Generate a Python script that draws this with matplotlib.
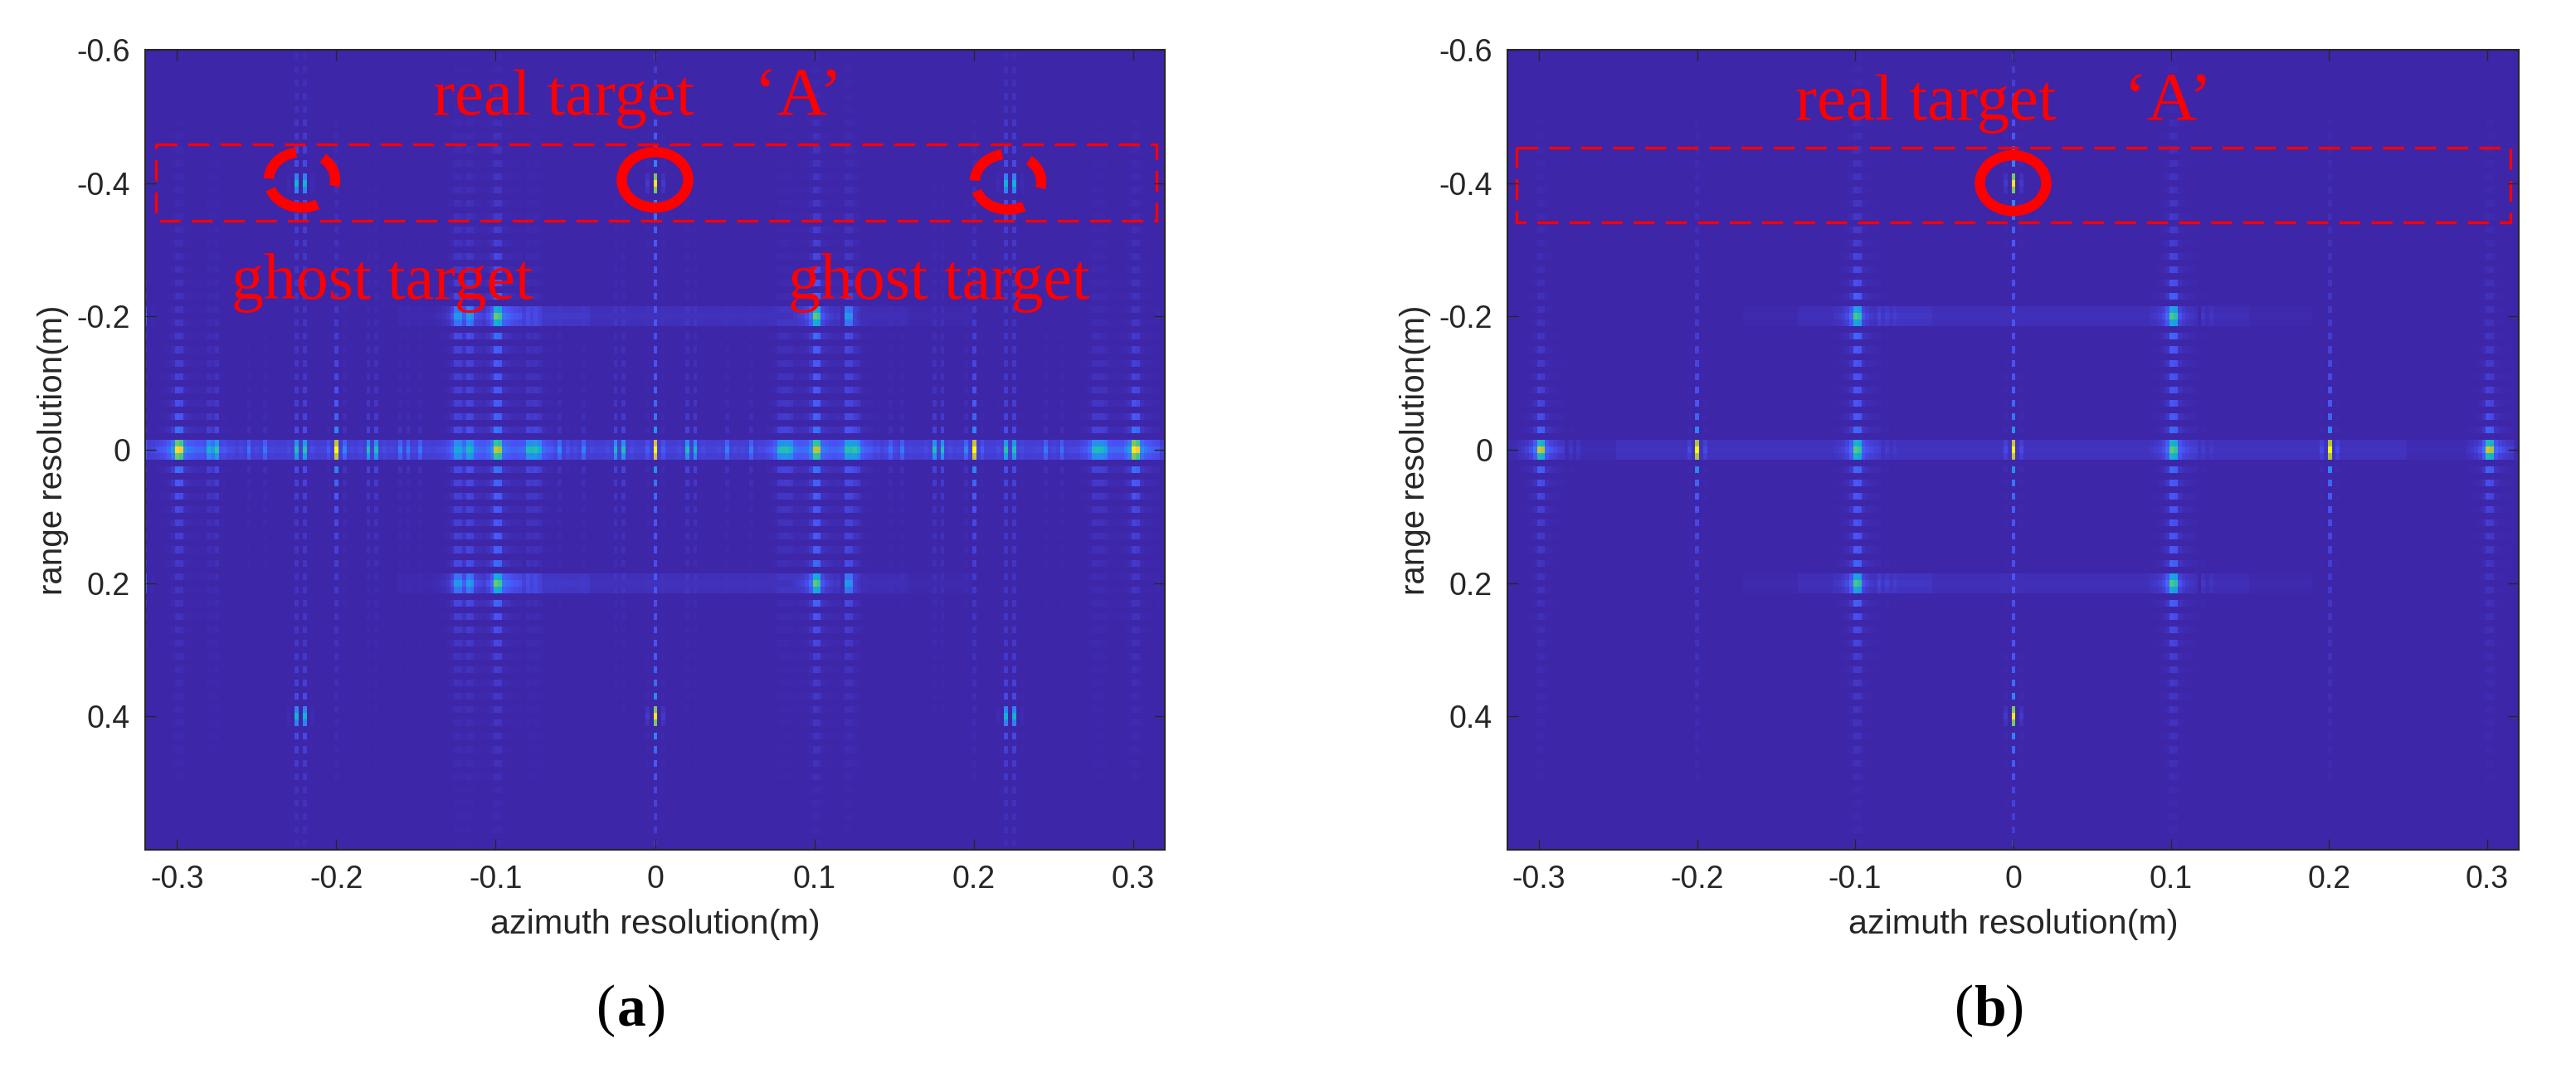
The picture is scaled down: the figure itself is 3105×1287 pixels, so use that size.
import numpy as np
import matplotlib
matplotlib.use('Agg')
import matplotlib.pyplot as plt
from matplotlib.colors import LinearSegmentedColormap
from matplotlib.patches import Rectangle, Ellipse, Arc

W, H = 3105, 1287

# parula-like colours
parula_colors = ['#3e26a8', '#4a52f5', '#2d87f7', '#11b1d6', '#37c897',
                 '#abc739', '#f4bd3a', '#fdd42c', '#f9fb15']
parula = LinearSegmentedColormap.from_list('parula', parula_colors, N=256)

# sidelobe pattern along range: row offset -> gain
v_off = [0, 1, 3, 5, 7, 9, 11, 13, 15, 17, 19, 21, 23, 25, 27, 29, 31, 33, 35, 37, 39, 41, 43, 45, 47, 49]
v_gain = [1, .6, .24, .17, .14, .12, .10, .09, .08, .07, .06, .055, .05, .045, .04,
          .036, .033, .03, .028, .026, .024, .022, .02, .018, .016, .014]

# azimuth spread of a target: column offset -> gain
narrow_off = [-2, 0, 2]
narrow_gain = [.06, 1, .06]
wide_off = [-5, -4, -3, -2, -1, 0, 1, 2, 3, 4, 5, 6, 8, 10]
wide_gain = [.03, .05, .08, .14, .3, 1, .9, .24, .16, .12, .09, .07, .05, .04]

# panel (a) targets, one row of the picture at a time (n = narrow, w = wide)
a_az_0 = [-.32, -.3, -.28, -.275, -.255, -.245, -.225, -.22, -.2, -.195, -.18, -.175, -.16, -.155, -.148,
          -.125, -.1175, -.1, -.08, -.075, -.06, -.045, -.025, -.02, 0, .02, .025, .045, .06, .0775,
          .0825, .1, .12, .125, .148, .155, .175, .18, .195, .2, .22, .225, .245, .255, .275, .28, .3]
a_amp_0 = [.1, .82, .25, .3, .12, .13, .33, .36, 1, .1, .33, .33, .13, .13, .12,
           .25, .3, .58, .28, .28, .14, .15, .3, .33, 1, .33, .3, .15, .14, .3,
           .3, .58, .3, .3, .12, .13, .33, .33, .1, 1, .36, .33, .13, .12, .3, .25, .82]
a_kind_0 = ['n', 'w', 'w', 'n', 'n', 'n', 'n', 'n', 'n', 'n', 'n', 'n', 'n', 'n', 'n',
            'w', 'w', 'w', 'w', 'w', 'n', 'n', 'n', 'n', 'n', 'n', 'n', 'n', 'n', 'w',
            'w', 'w', 'w', 'w', 'n', 'n', 'n', 'n', 'n', 'n', 'n', 'n', 'n', 'n', 'w', 'w', 'w']
a_az_2 = [-.32, -.125, -.1175, -.1, .1, .12, .1225, .32]
a_amp_2 = [.22, .28, .28, .55, .55, .28, .28, .22]
a_kind_2 = ['n', 'w', 'w', 'w', 'w', 'n', 'n', 'n']
a_az_4 = [-.225, -.22, 0, .22, .225]
a_amp_4 = [.36, .36, .92, .36, .36]
a_kind_4 = ['n', 'n', 'n', 'n', 'n']

# panel (b) targets
b_az_0 = [-.3, -.2, -.1, 0, .1, .2, .3]
b_amp_0 = [.68, 1, .5, 1, .5, 1, .68]
b_kind_0 = ['w', 'n', 'w', 'n', 'w', 'n', 'w']
b_az_2 = [-.1, .1]
b_amp_2 = [.52, .52]
b_kind_2 = ['w', 'w']
b_az_4 = [0]
b_amp_4 = [.92]
b_kind_4 = ['n']

# faint horizontal glow: range, az start, az stop, level
a_glow_rng = [0, -.2, -.2, -.2, -.2, -.2, -.2, .2, .2, .2, .2, .2, .2]
a_glow_start = [-.32, -.16, -.095, -.07, -.04, .125, .16, -.16, -.095, -.07, -.04, .125, .16]
a_glow_stop = [.32, -.125, -.07, -.04, .1, .16, .2, -.125, -.07, -.04, .1, .16, .2]
a_glow_amp = [.085, .012, .08, .055, .035, .025, .012, .012, .08, .055, .035, .025, .012]
b_glow_rng = [0, 0, -.2, -.2, -.2, -.2, -.2, -.2, .2, .2, .2, .2, .2, .2]
b_glow_start = [-.32, -.25, -.17, -.135, -.085, -.05, .12, .15, -.17, -.135, -.085, -.05, .12, .15]
b_glow_stop = [.32, .25, -.135, -.1, -.05, .1, .15, .19, -.135, -.1, -.05, .1, .15, .19]
b_glow_amp = [.02, .02, .012, .03, .05, .03, .025, .012, .012, .03, .05, .03, .025, .012]

az = np.arange(-128, 129) * 0.0025
rng = np.arange(-60, 61) * 0.01


def add_cell(img, r, c, val):
    if 0 <= r < img.shape[0] and 0 <= c < img.shape[1]:
        img[r, c] += val


def add_targets(img, rng_list, az_list, amp_list, kind_list):
    for r0, a0, amp, kind in zip(rng_list, az_list, amp_list, kind_list):
        r = int(round(r0 / 0.01)) + 60
        c = int(round(a0 / 0.0025)) + 128
        offs = wide_off if kind == 'w' else narrow_off
        gains = wide_gain if kind == 'w' else narrow_gain
        for dc, gc in zip(offs, gains):
            for dr, gr in zip(v_off, v_gain):
                add_cell(img, r + dr, c + dc, amp * gc * gr)
                if dr != 0:
                    add_cell(img, r - dr, c + dc, amp * gc * gr)


def add_glow(img, rng_list, start, stop, amp_list):
    for r0, s, e, amp in zip(rng_list, start, stop, amp_list):
        r = int(round(r0 / 0.01)) + 60
        c0 = int(round(s / 0.0025)) + 128
        c1 = int(round(e / 0.0025)) + 128
        for c in range(c0, c1):
            for dr in [-1, 0, 1]:
                add_cell(img, r + dr, c, amp * (1 if dr == 0 else .8))


def build_panel(rows, glow):
    img = np.zeros((len(rng), len(az)))
    for r_list, az_list, amp_list, kind_list in rows:
        for r0 in r_list:
            add_targets(img, [r0] * len(az_list), az_list, amp_list, kind_list)
    add_glow(img, *glow)
    return img


img_a = build_panel([([0], a_az_0, a_amp_0, a_kind_0),
                     ([-.2, .2], a_az_2, a_amp_2, a_kind_2),
                     ([-.4, .4], a_az_4, a_amp_4, a_kind_4)],
                    (a_glow_rng, a_glow_start, a_glow_stop, a_glow_amp))
img_b = build_panel([([0], b_az_0, b_amp_0, b_kind_0),
                     ([-.2, .2], b_az_2, b_amp_2, b_kind_2),
                     ([-.4, .4], b_az_4, b_amp_4, b_kind_4)],
                    (b_glow_rng, b_glow_start, b_glow_stop, b_glow_amp))

plt.rcParams['font.family'] = 'Liberation Sans'
fig = plt.figure(figsize=(W / 100, H / 100), dpi=100)


def fx(px):
    return px / W


def fy(py):
    return 1 - py / H


def draw_panel(left, right, img):
    ax = fig.add_axes([fx(left), fy(1024), (right - left) / W, (1024 - 60) / H])
    ax.imshow(img, cmap=parula, vmin=0, vmax=1, aspect='auto', interpolation='nearest',
              extent=(az[0] - .00125, az[-1] + .00125, rng[-1] + .005, rng[0] - .005))
    ax.set_xlim(-.32, .32)
    ax.set_ylim(.6, -.6)
    ax.set_xticks([-.3, -.2, -.1, 0, .1, .2, .3])
    ax.set_xticklabels(['-0.3', '-0.2', '-0.1', '0', '0.1', '0.2', '0.3'])
    ax.set_yticks([-.6, -.4, -.2, 0, .2, .4])
    ax.set_yticklabels(['-0.6', '-0.4', '-0.2', '0', '0.2', '0.4'])
    ax.tick_params(direction='in', length=9.5, width=1, top=True, right=True,
                   labelsize=27, colors='#262626', pad=13)
    ax.set_xlabel('azimuth resolution(m)', fontsize=29.8, color='#262626', labelpad=12)
    ax.set_ylabel('range resolution(m)', fontsize=29, color='#262626', labelpad=7)
    for s in ax.spines.values():
        s.set_linewidth(1.5)
        s.set_color('#262626')
    return ax


def circle(ax, x, y, w, h):
    ax.add_patch(Ellipse((x, y), w, h, fill=False, ec='red', lw=9))


def dashed_circle(ax, x, y, w, h):
    # y axis runs downwards, so angles are measured clockwise on screen
    for t1, t2 in [(185, 265), (75, 145), (-68, 25)]:
        ax.add_patch(Arc((x, y), w, h, theta1=t1, theta2=t2, color='red', lw=9))


def dashed_box(ax, x0, x1, y0, y1):
    ax.add_patch(Rectangle((x0, y0), x1 - x0, y1 - y0, fill=False, ec='red', lw=2.4,
                           ls=(0, (7.6, 4))))


def red_text(px, py, s, size):
    fig.text(fx(px), fy(py), s, color='red', fontsize=size, family='Liberation Serif',
             ha='left', va='baseline')


def panel_tag(cx, letter):
    fig.text(fx(cx - 30), fy(1235), '(', fontsize=50, family='Liberation Serif', ha='center', va='baseline')
    fig.text(fx(cx), fy(1235), letter, fontsize=50, family='Liberation Serif', weight='bold',
             ha='center', va='baseline')
    fig.text(fx(cx + 30), fy(1235), ')', fontsize=50, family='Liberation Serif', ha='center', va='baseline')


ax_a = draw_panel(175, 1404, img_a)
ax_b = draw_panel(1817, 3036, img_b)

dashed_box(ax_a, -.313, .315, -.458, -.3435)
circle(ax_a, 0, -.405, .0417, .0835)
dashed_circle(ax_a, -.2216, -.405, .0417, .0835)
dashed_circle(ax_a, .2216, -.402, .0417, .0835)
dashed_box(ax_b, -.3144, .315, -.453, -.341)
circle(ax_b, 0, -.4, .042, .0835)

red_text(522, 138, 'real target', 56.5)
red_text(909, 138, '\u2018A\u2019', 60)
red_text(279, 360, 'ghost target', 56)
red_text(950, 360, 'ghost target', 56)
red_text(2164, 144, 'real target', 56.5)
red_text(2560, 144, '\u2018A\u2019', 60)

panel_tag(761, 'a')
panel_tag(2398, 'b')

plt.savefig('out.png', dpi=100)
